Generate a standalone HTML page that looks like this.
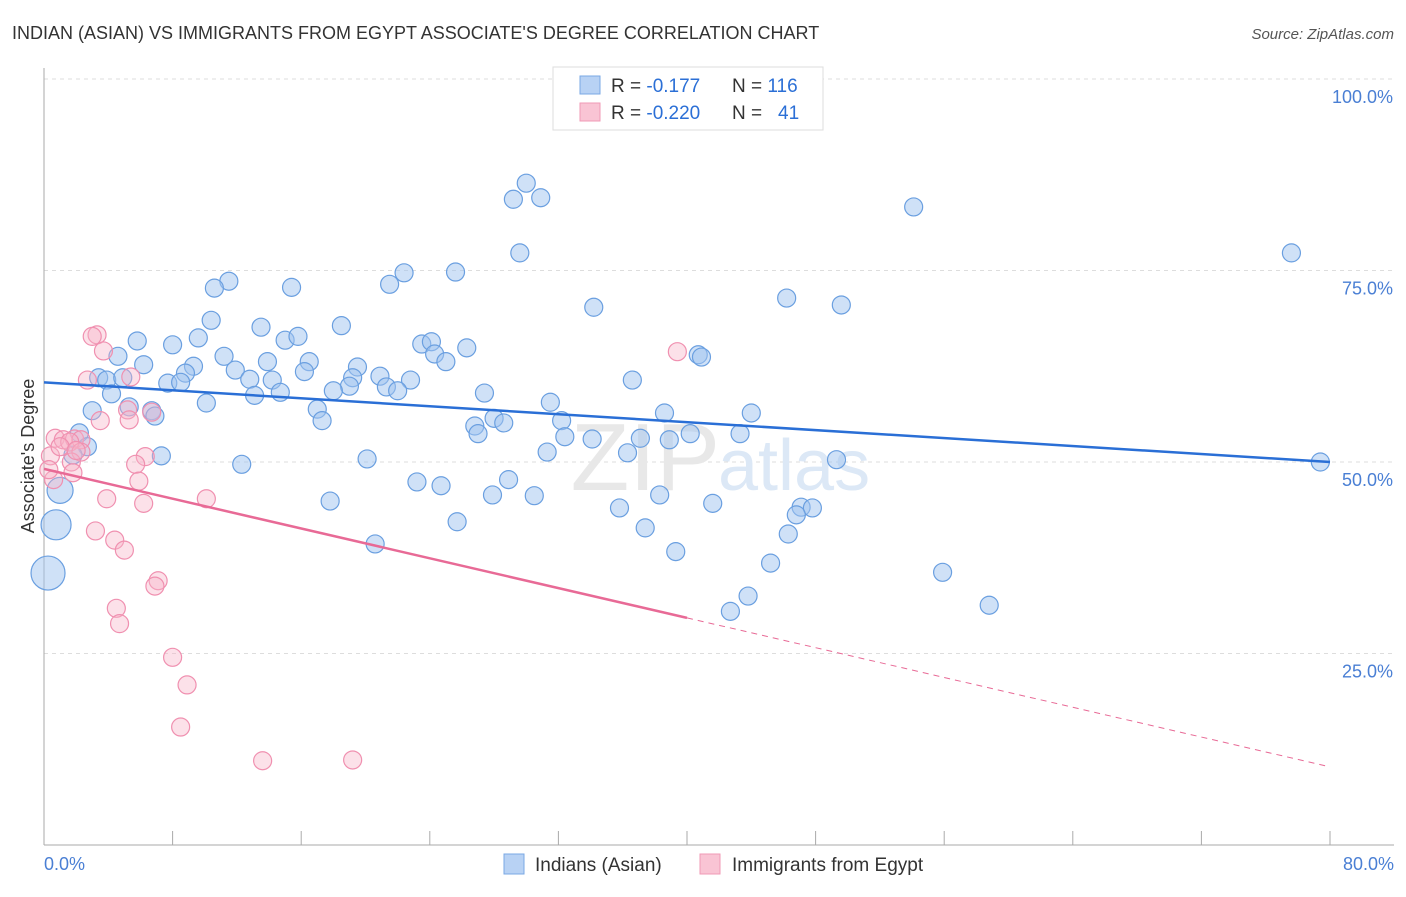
<!DOCTYPE html>
<html><head><meta charset="utf-8"><style>
body{margin:0;background:#fff;font-family:"Liberation Sans",sans-serif;}
svg text{font-family:"Liberation Sans",sans-serif;}
</style></head><body>
<svg id="chart" width="1406" height="892" viewBox="0 0 1406 892">
<text x="12" y="39" font-size="18" fill="#333">INDIAN (ASIAN) VS IMMIGRANTS FROM EGYPT ASSOCIATE'S DEGREE CORRELATION CHART</text>
<text x="1394" y="39" font-size="15" fill="#555" text-anchor="end" font-style="italic">Source: ZipAtlas.com</text>
<g id="grid"></g>
<text x="720" y="490" font-size="96" fill="#e8e8e8" text-anchor="end" font-family="Liberation Serif">ZIP</text>
<text x="718" y="490" font-size="72" fill="#dce8f6">atlas</text>
<g id="marks"></g>
<g id="lines"></g>
<text transform="translate(34,456) rotate(-90)" font-size="18" fill="#333" text-anchor="middle">Associate's Degree</text>
<text x="44" y="870" font-size="18" fill="#4a7fd4">0.0%</text>
<text x="1394" y="870" font-size="18" fill="#4a7fd4" text-anchor="end">80.0%</text>
<g>
<rect x="553" y="67" width="270" height="63" fill="#fff" stroke="#ddd"/>
<rect x="580" y="76" width="20" height="18" fill="#b8d2f4" stroke="#7aa8e4"/>
<rect x="580" y="103" width="20" height="18" fill="#f9c4d4" stroke="#f09ab6"/>
<text x="611" y="92" font-size="19" fill="#333">R = <tspan fill="#2b6fd6">-0.177</tspan><tspan x="732">N = </tspan><tspan fill="#2b6fd6">116</tspan></text>
<text x="611" y="119" font-size="19" fill="#333">R = <tspan fill="#2b6fd6">-0.220</tspan><tspan x="732">N = </tspan><tspan fill="#2b6fd6" x="778">41</tspan></text>
</g>
<g>
<rect x="504" y="854" width="20" height="20" fill="#b8d2f4" stroke="#7aa8e4"/>
<text x="535" y="871" font-size="19" fill="#333">Indians (Asian)</text>
<rect x="700" y="854" width="20" height="20" fill="#f9c4d4" stroke="#f09ab6"/>
<text x="732" y="871" font-size="19" fill="#333">Immigrants from Egypt</text>
</g>
</svg>
<script>
const yTicks=[100,75,50,25];
const yTickLabels=["100.0%","75.0%","50.0%","25.0%"];
const xTicks=[0,8,16,24,32,40,48,56,64,72,80];
const blueX=[30.0,29.2,30.9,54.1,77.6,29.6,11.5,10.6,15.4,22.4,21.5,25.6,46.2,49.6,34.2,10.4,13.5,18.5,5.8,8.0,9.6,15.0,15.8,23.5,24.1,26.3,24.3,25.0,4.6,6.2,11.2,13.9,16.5,9.3,11.9,19.5,16.2,8.8,20.9,19.2,40.7,40.9,36.6,3.4,3.9,4.9,7.7,8.5,12.8,14.2,22.8,21.3,22.0,19.0,18.0,14.7,13.1,27.4,4.2,10.1,31.5,3.0,5.3,17.0,6.7,6.9,17.3,38.6,44.0,28.0,28.6,32.2,26.8,27.0,32.4,34.1,37.1,38.9,40.2,43.3,2.2,2.7,1.8,31.3,36.3,7.3,20.1,49.3,79.4,12.3,1.0,0.75,0.25,23.2,24.7,28.9,27.9,30.5,38.3,17.8,41.6,35.8,47.1,47.8,46.8,25.7,37.4,46.3,20.6,39.3,45.2,55.9,43.8,58.8,42.7];
const blueY=[86.4,84.3,84.5,83.3,77.3,77.3,73.6,72.7,72.8,74.7,73.2,74.8,71.4,70.5,70.2,68.5,67.6,67.8,65.8,65.3,66.2,65.9,66.4,65.4,65.7,64.9,64.1,63.1,63.8,62.7,63.8,63.1,63.1,62.5,62.0,62.4,61.8,61.6,61.2,61.0,64.0,63.7,60.7,61.0,60.7,61.0,60.3,60.4,60.8,60.7,60.7,59.8,59.3,59.9,59.3,59.1,58.7,59.0,58.9,57.7,57.8,56.7,57.2,56.9,56.7,56.0,55.4,56.4,56.4,55.7,55.1,55.4,54.7,53.7,53.3,53.0,53.1,52.9,53.7,53.7,53.8,52.0,50.9,51.3,51.2,50.8,50.4,50.3,50.0,49.7,46.3,41.8,35.5,47.4,46.9,47.7,45.7,45.6,45.7,44.9,44.6,44.0,44.1,44.0,43.1,42.2,41.4,40.6,39.3,38.3,36.8,35.6,32.5,31.3,30.5];
const blueSize=blueX.map((_,i)=>i===90?13:i===91?15:i===92?17:9);
const pinkX=[3.3,3.0,3.7,39.4,5.4,2.7,5.2,6.7,3.5,5.3,0.7,1.2,1.9,2.3,1.6,2.3,0.4,1.7,6.3,5.7,1.8,5.9,0.6,3.9,10.1,6.2,3.2,4.4,5.0,7.1,6.9,4.5,4.7,8.0,8.9,8.5,13.6,19.2,1.0,2.0,0.3];
const pinkY=[66.6,66.4,64.5,64.4,61.1,60.7,56.8,56.5,55.4,55.5,53.1,52.9,53.0,52.9,52.6,51.3,50.8,50.0,50.7,49.7,48.6,47.5,47.7,45.2,45.2,44.6,41.0,39.8,38.5,34.5,33.8,30.9,28.9,24.5,20.9,15.4,11.0,11.1,52.0,51.5,49.0];
const blueTrend=[60.4,50.0];
const pinkTrend=[49.1,10.2];
const pinkSolidEnd=40;
const X=v=>44+v/80*1286, Y=v=>845-v/100*766;
const NS="http://www.w3.org/2000/svg";
function mk(t,a,p){const e=document.createElementNS(NS,t);for(const k in a)e.setAttribute(k,a[k]);p.appendChild(e);return e;}
const grid=document.getElementById('grid'),marks=document.getElementById('marks'),lines=document.getElementById('lines');
yTicks.forEach((t,i)=>{
 const l=mk('line',{x1:44,x2:1394,y1:Y(t),y2:Y(t),stroke:'#ddd','stroke-dasharray':'4,4'},grid);
 
 
 const tx=mk('text',{x:1393,y:Y(t)+24,'font-size':18,fill:'#4a7fd4','text-anchor':'end'},grid);
 tx.textContent=yTickLabels[i];
 
 
});
const ax=mk('line',{x1:44,x2:44,y1:68,y2:845,stroke:'#aaa'},grid);


const bx=mk('line',{x1:44,x2:1394,y1:845,y2:845,stroke:'#aaa'},grid);


xTicks.forEach(t=>{
 const l=mk('line',{x1:X(t),x2:X(t),y1:831,y2:845,stroke:'#aaa'},grid);
 
 
});
blueX.forEach((v,i)=>{
 const c=mk('circle',{cx:X(v),cy:Y(blueY[i]),r:blueSize[i],fill:'rgba(160,196,240,0.5)',stroke:'#6a9fe0','stroke-width':1.2},marks);
 
 
});
pinkX.forEach((v,i)=>{
 const c=mk('circle',{cx:X(v),cy:Y(pinkY[i]),r:9,fill:'rgba(248,180,200,0.4)',stroke:'#f090b0','stroke-width':1.2},marks);
 
 
});
const bl=mk('line',{x1:X(0),y1:Y(blueTrend[0]),x2:X(80),y2:Y(blueTrend[1]),stroke:'#2a6fd6','stroke-width':2.5},lines);


const pm=pinkTrend[0]+(pinkTrend[1]-pinkTrend[0])*pinkSolidEnd/80;
const pl=mk('line',{x1:X(0),y1:Y(pinkTrend[0]),x2:X(pinkSolidEnd),y2:Y(pm),stroke:'#e86a96','stroke-width':2.5},lines);


const pd=mk('line',{x1:X(pinkSolidEnd),y1:Y(pm),x2:X(80),y2:Y(pinkTrend[1]),stroke:'#e86a96','stroke-width':1,'stroke-dasharray':'6,5'},lines);


</script>
</body></html>
